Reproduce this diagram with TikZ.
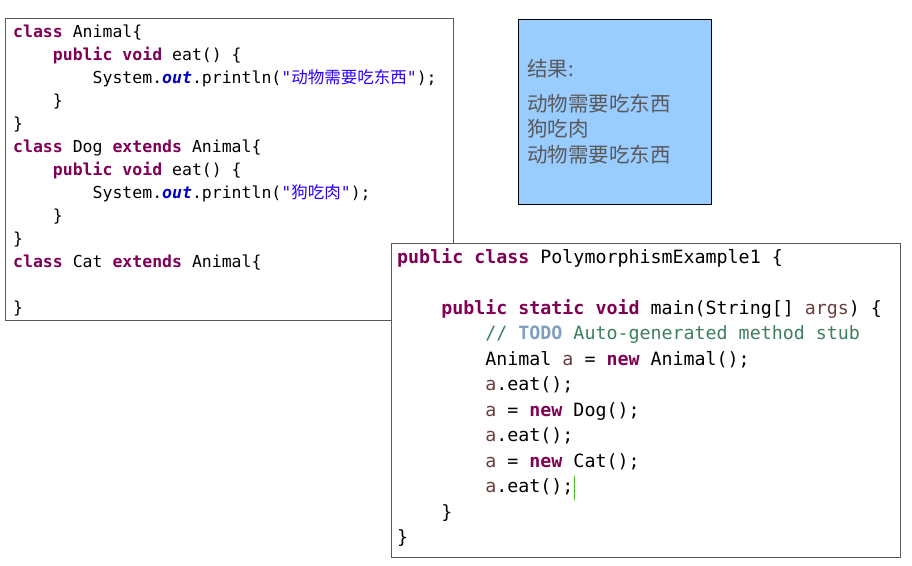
\documentclass[tikz,border=0pt]{standalone}
\usepackage{fontspec}
\usepackage{xcolor}
\usetikzlibrary{calc}
\newfontfamily\code{DejaVu Sans Mono}
\newfontfamily\cjk{Noto Sans CJK SC}

\definecolor{kwcol}{HTML}{7F0055}
\definecolor{strcol}{HTML}{2A00FF}
\definecolor{fldcol}{HTML}{0000C0}
\definecolor{lvcol}{HTML}{6A3E3E}
\definecolor{cmtcol}{HTML}{3F7F5F}
\definecolor{todocol}{HTML}{7F9FBF}
\definecolor{rescol}{HTML}{99CCFF}
\definecolor{restext}{HTML}{595959}
\definecolor{curcol}{HTML}{44BB22}

\newcommand{\kw}[1]{\textcolor{kwcol}{\bfseries #1}}
\newcommand{\strg}[1]{\textcolor{strcol}{"{\cjk #1}"}}
\newcommand{\fld}[1]{\textcolor{fldcol}{\bfseries\itshape #1}}
\newcommand{\lv}[1]{\textcolor{lvcol}{#1}}
\newcommand{\ind}{\phantom{0000}}
\newcommand{\todoline}{\textcolor{cmtcol}{// \textcolor{todocol}{\bfseries TODO} Auto-generated method stub}}

\tikzset{
 codebox/.style={draw=black!65, line width=.9pt, inner sep=0pt, anchor=north west},
 resbox/.style={draw=black, line width=1.2pt, fill=rescol, inner sep=0pt, anchor=north west},
 codeline/.style={anchor=base west, inner sep=0pt, text=black},
 resline/.style={anchor=base west, inner sep=0pt, text=restext, font=\cjk\fontsize{20.5}{25}\selectfont}
}

\begin{document}
\begin{tikzpicture}[x=1pt,y=1pt]
\useasboundingbox (0,0) rectangle (912,-565);
% boxes
\node[codebox, minimum width=448, minimum height=302] (animalbox) at (5,-18) {};
\node[resbox, minimum width=193, minimum height=185] (resultbox) at (518,-19) {};
\node[codebox, fill=white, minimum width=509, minimum height=314] (mainbox) at (391,-243) {};
% class Animal, Dog, Cat
\foreach \t [count=\i] in {
 {\kw{class} Animal\{},
 {\ind\kw{public} \kw{void} eat() \{},
 {\ind\ind System.\fld{out}.println(\strg{动物需要吃东西});},
 {\ind\}},
 {\}},
 {\kw{class} Dog \kw{extends} Animal\{},
 {\ind\kw{public} \kw{void} eat() \{},
 {\ind\ind System.\fld{out}.println(\strg{狗吃肉});},
 {\ind\}},
 {\}},
 {\kw{class} Cat \kw{extends} Animal\{},
 {},
 {\}}}
 \node[codeline, font=\code\fontsize{16.5}{23}\selectfont] (animal\i) at (13,{-37-23*(\i-1)}) {\t};
% main
\foreach \t [count=\i] in {
 {\kw{public} \kw{class} PolymorphismExample1 \{},
 {},
 {\ind\kw{public} \kw{static} \kw{void} main(String[] \lv{args}) \{},
 {\ind\ind\todoline},
 {\ind\ind Animal \lv{a} = \kw{new} Animal();},
 {\ind\ind\lv{a}.eat();},
 {\ind\ind\lv{a} = \kw{new} Dog();},
 {\ind\ind\lv{a}.eat();},
 {\ind\ind\lv{a} = \kw{new} Cat();},
 {\ind\ind\lv{a}.eat();},
 {\ind\}},
 {\}}}
 \node[codeline, font=\code\fontsize{18.3}{25.5}\selectfont] (main\i) at (397,{-263-25.5*(\i-1)}) {\t};
\draw[curcol, line width=1pt] ($(main10.base east)+(0.5,-7)$) -- ++(0,24);
% result
\node[resline] (res0) at (527,-76) {结果:};
\node[resline] (res1) at (527,-111) {动物需要吃东西};
\node[resline] (res2) at (527,-136.5) {狗吃肉};
\node[resline] (res3) at (527,-162) {动物需要吃东西};
\end{tikzpicture}
\end{document}
